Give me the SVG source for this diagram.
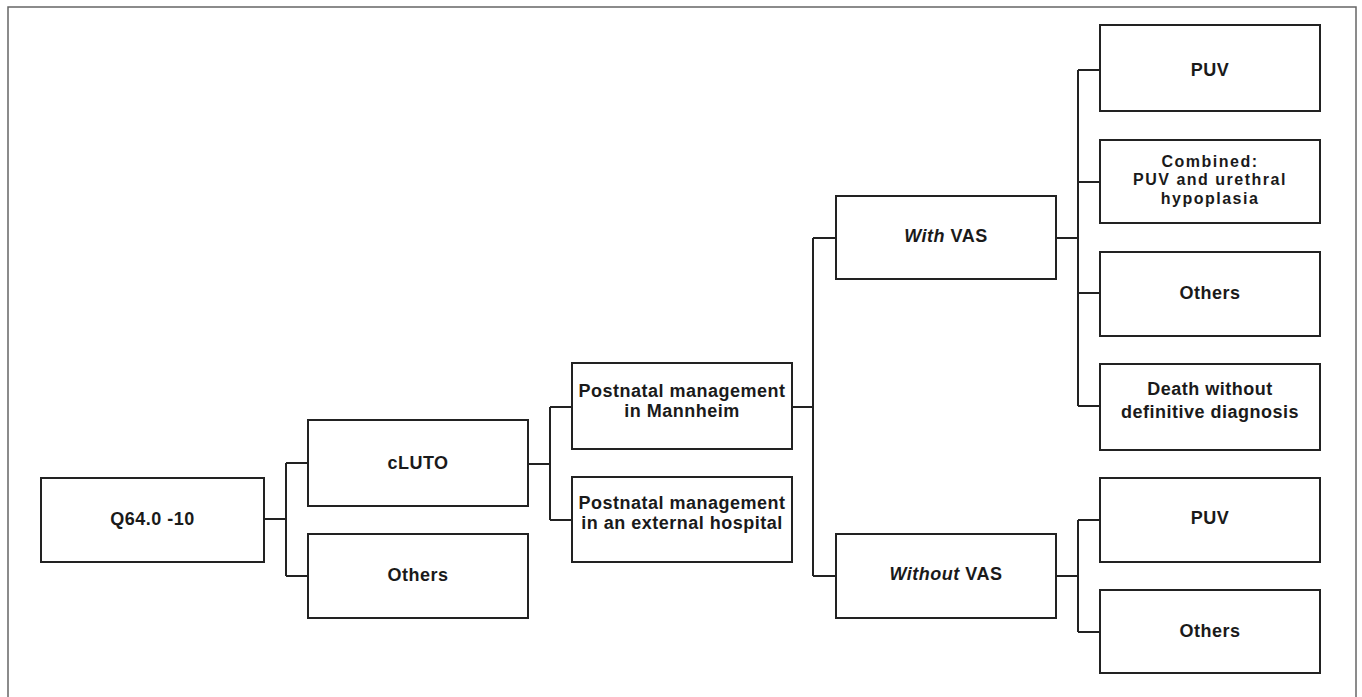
<svg xmlns="http://www.w3.org/2000/svg" width="1362" height="697" viewBox="0 0 1362 697">
<style>
.box{fill:#fff;stroke:#222;stroke-width:2}
.con{fill:none;stroke:#222;stroke-width:2}
text{font-family:"Liberation Sans",Arial,sans-serif;font-weight:bold;font-size:18px;fill:#1a1a1a;text-anchor:middle;letter-spacing:0.5px}
.it{font-style:italic}
.sm{font-size:16px;letter-spacing:1.5px}
</style>
<rect x="0" y="0" width="1362" height="697" fill="#fff"/>
<rect x="8" y="7" width="1348" height="700" fill="none" stroke="#666" stroke-width="1.5"/>
<g id="connectors">
<path class="con" d="M264,519 H286 M286,463 V576 M286,463 H308 M286,576 H308"/>
<path class="con" d="M528,464 H550 M550,407 V520 M550,407 H572 M550,520 H572"/>
<path class="con" d="M792,407 H813 M813,238 V576 M813,238 H836 M813,576 H836"/>
<path class="con" d="M1056,238 H1078 M1078,70 V406 M1078,70 H1100 M1078,182 H1100 M1078,293 H1100 M1078,406 H1100"/>
<path class="con" d="M1056,576 H1078 M1078,520 V632 M1078,520 H1100 M1078,632 H1100"/>
</g>
<g id="q64"><rect class="box" x="41" y="478" width="223" height="84"/><text x="152.5" y="525">Q64.0 -10</text></g>
<g id="cluto"><rect class="box" x="308" y="420" width="220" height="86"/><text x="418" y="469">cLUTO</text></g>
<g id="others1"><rect class="box" x="308" y="534" width="220" height="84"/><text x="418" y="581">Others</text></g>
<g id="mannheim"><rect class="box" x="572" y="363" width="220" height="86"/><text x="682" y="397">Postnatal management</text><text x="682" y="417">in Mannheim</text></g>
<g id="external"><rect class="box" x="572" y="477" width="220" height="85"/><text x="682" y="509">Postnatal management</text><text x="682" y="529">in an external hospital</text></g>
<g id="withvas"><rect class="box" x="836" y="196" width="220" height="83"/><text x="946" y="242"><tspan class="it">With</tspan> VAS</text></g>
<g id="withoutvas"><rect class="box" x="836" y="534" width="220" height="84"/><text x="946" y="580"><tspan class="it">Without</tspan> VAS</text></g>
<g id="puv1"><rect class="box" x="1100" y="25" width="220" height="86"/><text x="1210" y="75.5">PUV</text></g>
<g id="combined"><rect class="box" x="1100" y="140" width="220" height="83"/><text class="sm" x="1210" y="166.5">Combined:</text><text class="sm" x="1210" y="185">PUV and urethral</text><text class="sm" x="1210" y="203.5">hypoplasia</text></g>
<g id="others2"><rect class="box" x="1100" y="252" width="220" height="84"/><text x="1210" y="299">Others</text></g>
<g id="death"><rect class="box" x="1100" y="364" width="220" height="86"/><text x="1210" y="395">Death without</text><text x="1210" y="418">definitive diagnosis</text></g>
<g id="puv2"><rect class="box" x="1100" y="478" width="220" height="84"/><text x="1210" y="524">PUV</text></g>
<g id="others3"><rect class="box" x="1100" y="590" width="220" height="83"/><text x="1210" y="637">Others</text></g>
</svg>
